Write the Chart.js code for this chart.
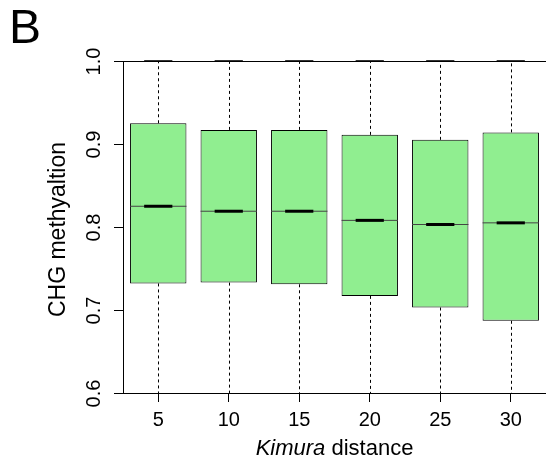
<!DOCTYPE html>
<html>
<head>
<meta charset="utf-8">
<script src="https://cdn.jsdelivr.net/npm/chart.js@4.4.1/dist/chart.umd.min.js"></script>
<style>
  html, body { margin: 0; padding: 0; background: #fff; }
  #wrap { width: 546px; height: 465px; position: relative; }
</style>
</head>
<body>
<div id="wrap"><canvas id="boxChart"></canvas></div>
<script>
// Kimura distance bins and CHG methylation box statistics
const categories = ["5", "10", "15", "20", "25", "30"];
const q1 = [0.732, 0.733, 0.731, 0.717, 0.703, 0.687];
const median = [0.825, 0.819, 0.819, 0.808, 0.803, 0.805];
const q3 = [0.925, 0.917, 0.917, 0.911, 0.905, 0.914];
const whiskerHigh = [1.0, 1.0, 1.0, 1.0, 1.0, 1.0];
const whiskerLow = [0.0, 0.0, 0.0, 0.0, 0.0, 0.0];
const yTicks = [0.6, 0.7, 0.8, 0.9, 1.0];

const FONT = "'Liberation Sans', Arial, Helvetica, sans-serif";

const boxPlugin = {
    id: "boxExtras",
    beforeDatasetsDraw(chart) {
        const ctx = chart.ctx;
        const area = chart.chartArea;
        const y = chart.scales.y;
        const meta = chart.getDatasetMeta(0);
        ctx.save();
        ctx.beginPath();
        ctx.rect(area.left, area.top - 2, area.right - area.left + 5, area.bottom - area.top + 2);
        ctx.clip();
        ctx.strokeStyle = "#000";
        ctx.lineWidth = 1;
        meta.data.forEach(function (bar, i) {
            const x = Math.round(bar.x) + 0.5;
            ctx.setLineDash([3, 3]);
            ctx.beginPath();
            ctx.moveTo(x, y.getPixelForValue(q3[i]));
            ctx.lineTo(x, y.getPixelForValue(whiskerHigh[i]));
            ctx.moveTo(x, y.getPixelForValue(q1[i]));
            ctx.lineTo(x, y.getPixelForValue(whiskerLow[i]));
            ctx.stroke();
            ctx.setLineDash([]);
            // caps
            const hw = bar.width / 4;
            ctx.lineWidth = 2;
            ctx.strokeStyle = "#333";
            ctx.beginPath();
            ctx.moveTo(bar.x - hw, y.getPixelForValue(whiskerHigh[i]));
            ctx.lineTo(bar.x + hw, y.getPixelForValue(whiskerHigh[i]));
            ctx.stroke();
            ctx.lineWidth = 1;
            ctx.strokeStyle = "#000";
        });
        ctx.restore();
    },
    afterDatasetsDraw(chart) {
        const ctx = chart.ctx;
        const area = chart.chartArea;
        const y = chart.scales.y;
        const meta = chart.getDatasetMeta(0);
        ctx.save();
        meta.data.forEach(function (bar, i) {
            const my = y.getPixelForValue(median[i]);
            const hw = bar.width / 2;
            ctx.strokeStyle = "#444";
            ctx.lineWidth = 1;
            ctx.beginPath();
            ctx.moveTo(bar.x - hw, my);
            ctx.lineTo(bar.x + hw, my);
            ctx.stroke();
            ctx.strokeStyle = "#000";
            ctx.lineWidth = 3;
            ctx.beginPath();
            ctx.moveTo(bar.x - hw / 2, my);
            ctx.lineTo(bar.x + hw / 2, my);
            ctx.stroke();
        });

        // frame: left axis and top line
        ctx.strokeStyle = "#000";
        ctx.lineWidth = 1;
        ctx.beginPath();
        ctx.moveTo(area.left + 0.5, area.top);
        ctx.lineTo(area.left + 0.5, area.bottom);
        ctx.moveTo(area.left, Math.round(area.top) + 0.5);
        ctx.lineTo(area.right + 2, Math.round(area.top) + 0.5);
        ctx.stroke();

        // y ticks and rotated labels
        ctx.fillStyle = "#000";
        ctx.font = "20px " + FONT;
        ctx.textAlign = "center";
        ctx.textBaseline = "alphabetic";
        yTicks.forEach(function (v) {
            const py = Math.round(y.getPixelForValue(v)) + 0.5;
            ctx.beginPath();
            ctx.moveTo(area.left - 9, py);
            ctx.lineTo(area.left, py);
            ctx.stroke();
            ctx.save();
            ctx.translate(99.5, py);
            ctx.rotate(-Math.PI / 2);
            ctx.fillText(v.toFixed(1), 0, 0);
            ctx.restore();
        });

        // y title
        ctx.save();
        ctx.font = "23px " + FONT;
        ctx.translate(65, 229.5);
        ctx.rotate(-Math.PI / 2);
        ctx.fillText("CHG methyaltion", 0, 0);
        ctx.restore();

        // x title with italic part
        const cx = (area.left + area.right) / 2;
        ctx.font = "italic 22px " + FONT;
        const w1 = ctx.measureText("Kimura").width;
        ctx.font = "22px " + FONT;
        const w2 = ctx.measureText(" distance").width;
        const x0 = cx - (w1 + w2) / 2;
        ctx.textAlign = "left";
        ctx.font = "italic 22px " + FONT;
        ctx.fillText("Kimura", x0, 455);
        ctx.font = "22px " + FONT;
        ctx.fillText(" distance", x0 + w1, 455);

        // panel letter
        ctx.font = "48px " + FONT;
        ctx.fillText("B", 9, 43);
        ctx.restore();
    }
};

const ctx = document.getElementById("boxChart");

new Chart(ctx, {
    type: "bar",
    data: {
        labels: categories,
        datasets: [{
            data: categories.map(function (c, i) { return [q1[i], q3[i]]; }),
            backgroundColor: "#90EE90",
            borderColor: "#000",
            borderWidth: 1,
            borderSkipped: false,
            barPercentage: 0.8,
            categoryPercentage: 1.0
        }]
    },
    options: {
        responsive: true,
        maintainAspectRatio: false,
        animation: false,
        events: [],
        layout: {
            padding: { left: 123, top: 61, right: -2, bottom: 0 }
        },
        plugins: {
            legend: { display: false },
            tooltip: { enabled: false }
        },
        scales: {
            x: {
                offset: true,
                grid: {
                    offset: false,
                    drawOnChartArea: false,
                    drawTicks: true,
                    tickLength: 9,
                    color: "#000"
                },
                border: { display: true, color: "#000", width: 1 },
                ticks: {
                    color: "#000",
                    padding: 6,
                    maxRotation: 0,
                    font: { family: FONT, size: 20 }
                },
                afterFit: function (scale) { scale.height = 72; }
            },
            y: {
                display: false,
                min: 0.6,
                max: 1.0
            }
        }
    },
    plugins: [boxPlugin]
});
</script>
</body>
</html>
